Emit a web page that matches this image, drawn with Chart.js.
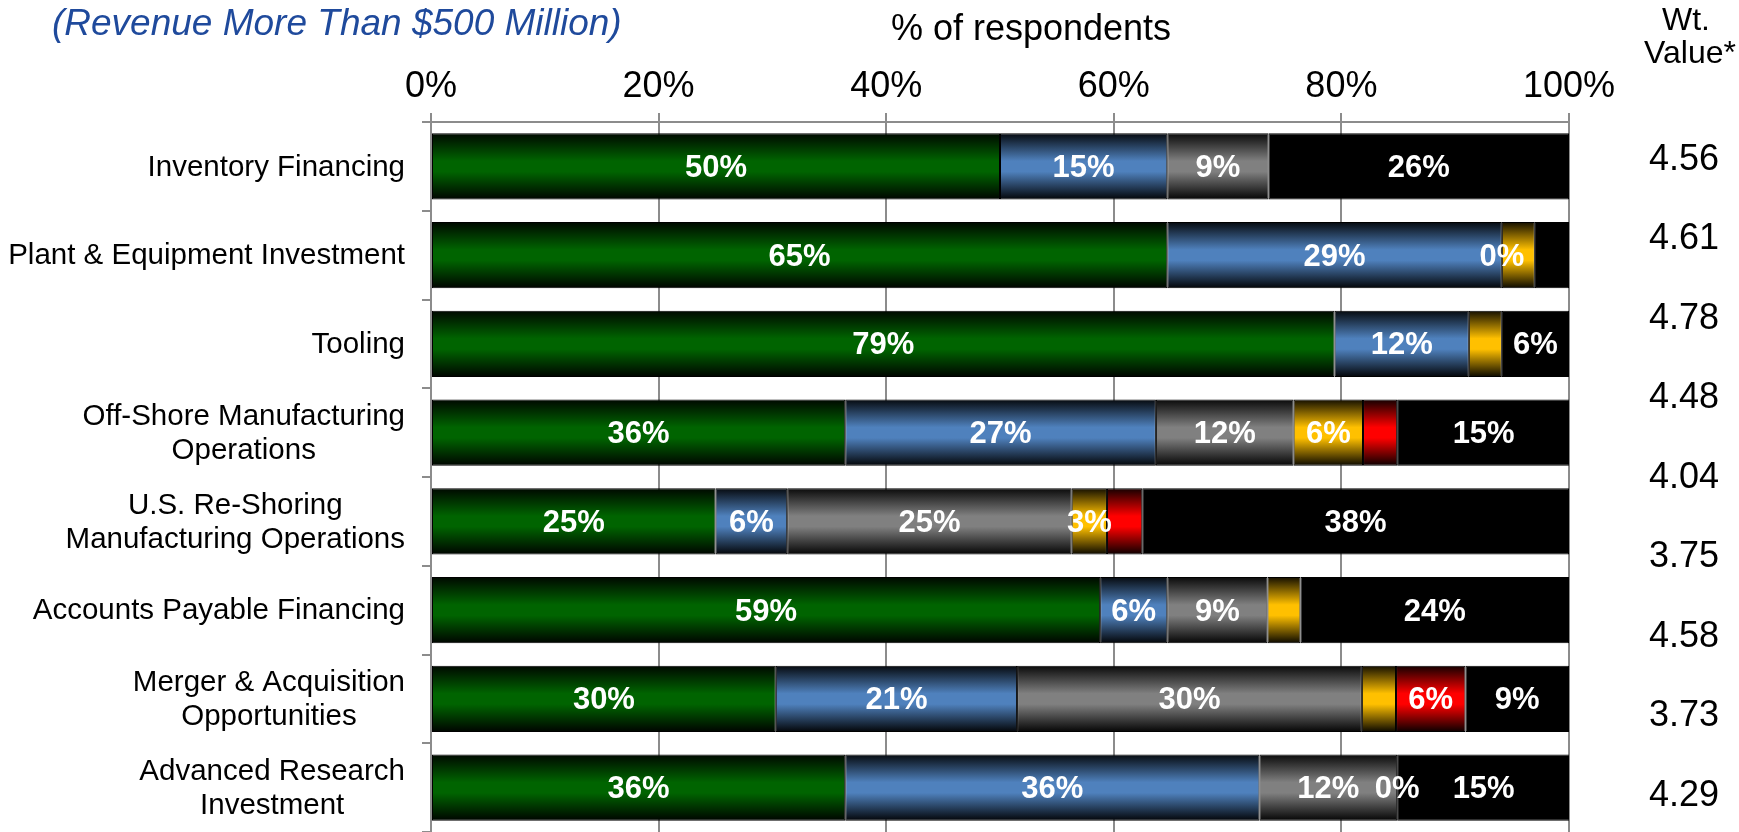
<!DOCTYPE html>
<html>
<head>
<meta charset="utf-8">
<script src="https://cdn.jsdelivr.net/npm/chart.js@4.4.1/dist/chart.umd.min.js"></script>
<style>
  html, body { margin: 0; padding: 0; background: #fff; }
  #wrap { width: 1739px; height: 832px; }
</style>
</head>
<body>
<div id="wrap"><canvas id="chart" width="1739" height="832"></canvas></div>
<script>
const CATEGORIES = [
  "Inventory Financing",
  "Plant & Equipment Investment",
  "Tooling",
  ["Off-Shore Manufacturing", "Operations"],
  ["U.S. Re-Shoring", "Manufacturing Operations"],
  "Accounts Payable Financing",
  ["Merger & Acquisition", "Opportunities"],
  ["Advanced Research", "Investment"]
];

// share of respondents per answer, left to right
const GREEN = [50.0, 64.7, 79.4, 36.4, 25.0, 58.8, 30.3, 36.4];
const BLUE = [14.7, 29.4, 11.8, 27.3, 6.3, 5.9, 21.2, 36.4];
const GRAY = [8.9, 0, 0, 12.1, 25.0, 8.8, 30.3, 12.1];
const YELLOW = [0, 2.9, 2.9, 6.1, 3.1, 2.9, 3.0, 0];
const RED = [0, 0, 0, 3.0, 3.1, 0, 6.1, 0];
const BLACK = [26.4, 3.0, 5.9, 15.2, 37.5, 23.6, 9.1, 15.2];

// which segments carry a percentage label
const GREEN_LBL = [1, 1, 1, 1, 1, 1, 1, 1];
const BLUE_LBL = [1, 1, 1, 1, 1, 1, 1, 1];
const GRAY_LBL = [1, 1, 0, 1, 1, 1, 1, 1];
const YELLOW_LBL = [0, 0, 0, 1, 1, 0, 0, 1];
const RED_LBL = [0, 0, 0, 0, 0, 0, 1, 0];
const BLACK_LBL = [1, 0, 1, 1, 1, 1, 1, 1];

const X_TICKS = [0, 20, 40, 60, 80, 100];
const WT_VALUES = ["4.56", "4.61", "4.78", "4.48", "4.04", "3.75", "4.58", "3.73", "4.29"];

const FONT = '"Liberation Sans", Arial, sans-serif';
const AXIS_GRAY = "#8c8c8c";
const BAR_PCT = 0.745;

function shade(hex, f) {
  const n = parseInt(hex.slice(1), 16);
  const r = Math.round(((n >> 16) & 255) * f);
  const g = Math.round(((n >> 8) & 255) * f);
  const b = Math.round((n & 255) * f);
  return `rgb(${r},${g},${b})`;
}

// tube-like shading: dark at top and bottom edge, full colour in the middle
function tube(color) {
  return (ctx) => {
    const chart = ctx.chart;
    const y = chart.scales.y;
    if (!chart.chartArea || !y) return color;
    const c = y.getPixelForValue(ctx.dataIndex);
    const half = (y.height / CATEGORIES.length) * BAR_PCT / 2;
    const g = chart.ctx.createLinearGradient(0, c - half, 0, c + half);
    g.addColorStop(0, shade(color, 0.08));
    g.addColorStop(0.42, color);
    g.addColorStop(0.58, color);
    g.addColorStop(1, shade(color, 0.04));
    return g;
  };
}

const series = [
  [GREEN, GREEN_LBL, "#006400"],
  [BLUE, BLUE_LBL, "#4F81BD"],
  [GRAY, GRAY_LBL, "#808080"],
  [YELLOW, YELLOW_LBL, "#FFC000"],
  [RED, RED_LBL, "#FF0000"],
  [BLACK, BLACK_LBL, "#000000"]
];

const segmentLabels = {
  id: "segmentLabels",
  afterDatasetsDraw(chart) {
    const ctx = chart.ctx;
    ctx.save();
    ctx.font = `bold 31px ${FONT}`;
    ctx.fillStyle = "#fff";
    ctx.textAlign = "center";
    ctx.textBaseline = "middle";
    series.forEach(([values, shown], i) => {
      chart.getDatasetMeta(i).data.forEach((bar, j) => {
        if (!shown[j]) return;
        ctx.fillText(Math.round(values[j]) + "%", (bar.x + bar.base) / 2, bar.y + 2);
      });
    });
    ctx.restore();
  }
};

const sideText = {
  id: "sideText",
  afterDraw(chart) {
    const ctx = chart.ctx;
    const y = chart.scales.y;
    ctx.save();
    ctx.textBaseline = "middle";

    // category names: block right-aligned to the axis, lines centred in it
    ctx.font = `29.5px ${FONT}`;
    ctx.fillStyle = "#000";
    ctx.textAlign = "center";
    CATEGORIES.forEach((cat, i) => {
      const lines = Array.isArray(cat) ? cat : [cat];
      const w = Math.max(...lines.map((l) => ctx.measureText(l).width));
      const cx = chart.chartArea.left - 26 - w / 2;
      const cy = y.getPixelForValue(i) + 1;
      lines.forEach((l, k) => ctx.fillText(l, cx, cy + (k - (lines.length - 1) / 2) * 34));
    });

    ctx.font = `italic 37px ${FONT}`;
    ctx.fillStyle = "#1F4A9C";
    ctx.textAlign = "left";
    ctx.fillText("(Revenue More Than $500 Million)", 52, 25);

    ctx.fillStyle = "#000";
    ctx.textAlign = "center";
    ctx.font = `36px ${FONT}`;
    ctx.fillText("% of respondents", 1031, 30);

    ctx.font = `32px ${FONT}`;
    ctx.fillText("Wt.", 1686, 21);
    ctx.fillText("Value*", 1690, 54);

    ctx.font = `36px ${FONT}`;
    WT_VALUES.forEach((v, i) => ctx.fillText(v, 1684, 160 + i * 79.5));
    ctx.restore();
  }
};

new Chart(document.getElementById("chart"), {
  type: "bar",
  data: {
    labels: CATEGORIES,
    datasets: series.map(([values, , color], i) => ({
      label: "s" + i,
      data: values,
      backgroundColor: color === "#000000" ? color : tube(color),
      borderColor: "#000",
      borderWidth: 1,
      borderSkipped: false,
      categoryPercentage: 1,
      barPercentage: BAR_PCT
    }))
  },
  options: {
    indexAxis: "y",
    responsive: false,
    animation: false,
    layout: { padding: { left: 0, right: 170, top: 0, bottom: 0 } },
    plugins: { legend: { display: false }, tooltip: { enabled: false }, title: { display: false } },
    scales: {
      x: {
        position: "top",
        stacked: true,
        min: 0,
        max: 100,
        afterBuildTicks: (scale) => { scale.ticks = X_TICKS.map((v) => ({ value: v })); },
        afterFit: (scale) => { scale.height = 122; },
        ticks: {
          padding: 4,
          color: "#000",
          font: { family: FONT, size: 36 },
          callback: (v) => v + "%"
        },
        grid: { color: AXIS_GRAY, lineWidth: 2, tickLength: 9 },
        border: { display: true, color: AXIS_GRAY, width: 2 }
      },
      y: {
        stacked: true,
        afterFit: (scale) => { scale.width = 431; },
        ticks: { display: false },
        grid: { color: AXIS_GRAY, lineWidth: 2, tickLength: 9, drawOnChartArea: false, offset: true },
        border: { display: true, color: AXIS_GRAY, width: 2 }
      }
    }
  },
  plugins: [segmentLabels, sideText]
});
</script>
</body>
</html>
